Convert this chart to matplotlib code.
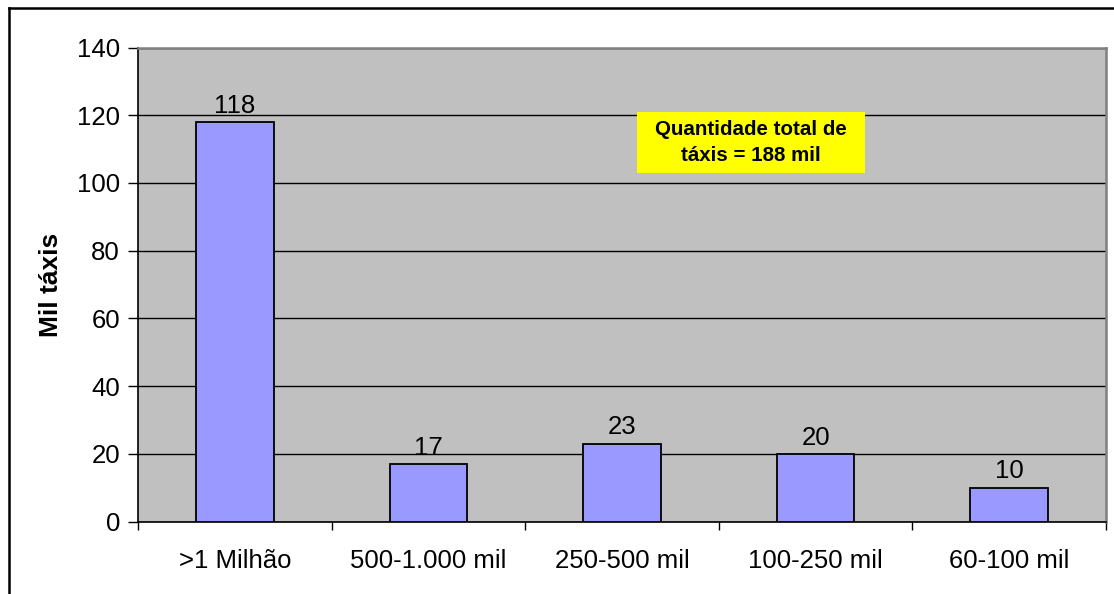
import matplotlib.pyplot as plt
from matplotlib.lines import Line2D
import numpy as np

categories = [">1 Milhão", "500-1.000 mil", "250-500 mil", "100-250 mil", "60-100 mil"]
values = [118, 17, 23, 20, 10]
y_ticks = [0, 20, 40, 60, 80, 100, 120, 140]

plt.rcParams['font.family'] = ['Liberation Sans', 'DejaVu Sans']

W, H = 1114, 594
fig = plt.figure(figsize=(W / 100, H / 100), dpi=100)
fig.patch.set_facecolor('white')

left, right, top, bottom = 138, 1106, 47.5, 521.5
ax = fig.add_axes([left / W, (H - bottom) / H, (right - left) / W, (bottom - top) / H])
ax.set_facecolor('#C0C0C0')

FS = 18.5
x = np.arange(len(categories))
ax.bar(x, values, width=0.4, color='#9999FF', edgecolor='black', linewidth=1.3, zorder=3)
for xi, v in zip(x, values):
    ax.annotate(f"{v}", (xi, v), xytext=(0, 3), textcoords='offset points',
                ha='center', va='bottom', fontsize=FS)

ax.set_xlim(-0.5, len(categories) - 0.5)
ax.set_ylim(0, 140)
ax.set_yticks(y_ticks)
ax.set_yticklabels([str(t) for t in y_ticks], fontsize=FS)
ax.yaxis.grid(True, color='black', linewidth=1.0)
ax.set_axisbelow(True)

ax.set_xticks(x)
ax.set_xticklabels(categories, fontsize=FS)
ax.tick_params(axis='x', which='major', length=0, pad=20)
ax.set_xticks(np.arange(-0.5, len(categories)), minor=True)
ax.tick_params(axis='x', which='minor', length=6, width=1, color='black', direction='out')
ax.tick_params(axis='y', length=7, width=1, direction='out', pad=6)

for side in ('left', 'bottom'):
    ax.spines[side].set_color('black')
    ax.spines[side].set_linewidth(1.2)
for side in ('top', 'right'):
    ax.spines[side].set_color('#808080')
    ax.spines[side].set_linewidth(1.8)

ax.set_ylabel("Mil táxis", fontsize=19, fontweight='bold', labelpad=10)

# highlighted total box
fig.patches.append(plt.Rectangle((637 / W, 1 - 173 / H), (865 - 637) / W, (173 - 112) / H,
                                 transform=fig.transFigure, facecolor='#FFFF00',
                                 edgecolor='none', zorder=4))
fig.text(0.5 * (637 + 865) / W, 1 - 0.5 * (112 + 173) / H,
         "Quantidade total de\ntáxis = 188 mil",
         ha='center', va='center', fontsize=14.8, fontweight='bold', linespacing=1.5,
         zorder=5)

# outer frame (left and top edges)
fig.add_artist(Line2D([8.5 / W, 8.5 / W], [0, 1 - 7.5 / H], transform=fig.transFigure,
                      color='black', linewidth=1.8))
fig.add_artist(Line2D([8.5 / W, 1], [1 - 7.5 / H, 1 - 7.5 / H], transform=fig.transFigure,
                      color='black', linewidth=1.8))

fig.savefig('out.png', dpi=100)
